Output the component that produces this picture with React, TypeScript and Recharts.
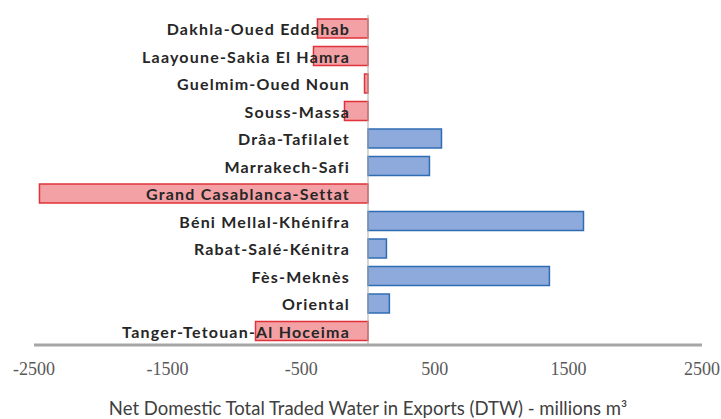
import React from "react";
import { BarChart, Bar, XAxis, YAxis, Cell, LabelList, ReferenceLine } from "recharts";

const regions = [
  "Dakhla-Oued Eddahab",
  "Laayoune-Sakia El Hamra",
  "Guelmim-Oued Noun",
  "Souss-Massa",
  "Drâa-Tafilalet",
  "Marrakech-Safi",
  "Grand Casablanca-Settat",
  "Béni Mellal-Khénifra",
  "Rabat-Salé-Kénitra",
  "Fès-Meknès",
  "Oriental",
  "Tanger-Tetouan-Al Hoceima",
];
const dtwValues = [-378, -408, -26, -176, 550, 460, -2459, 1613, 138, 1358, 160, -842];
const xTicks = [-2500, -1500, -500, 500, 1500, 2500];
const xTitle = "Net Domestic Total Traded Water in Exports (DTW) - millions m³";

const data = regions.map((region, i) => ({ region, value: dtwValues[i] }));

const NEG_FILL = "#f4a1a5";
const NEG_STROKE = "#e0323a";
const POS_FILL = "#8eaadc";
const POS_STROKE = "#2f6db3";

const RegionLabel = (props: any) => {
  const vb = props.viewBox ?? props;
  const x = Number(vb.x);
  const w = Number(vb.width);
  const y = Number(vb.y);
  const h = Number(vb.height);
  const val = dtwValues[props.index];
  const zero = val < 0 ? Math.max(x, x + w) : Math.min(x, x + w);
  return (
    <text
      x={zero - 18}
      y={y + h / 2}
      textAnchor="end"
      dominantBaseline="central"
      fontFamily="Lato, sans-serif"
      fontWeight={700}
      fontSize={16}
      letterSpacing={1.2}
      fill="#262626"
    >
      {props.value}
    </text>
  );
};

export default function App() {
  return (
    <div style={{ position: "absolute", left: 0, top: 0, background: "#fff" }}>
      <BarChart
        width={721}
        height={419}
        data={data}
        layout="vertical"
        margin={{ top: 15, right: 19, bottom: 4, left: 34 }}
        barSize={19}
      >
        <XAxis
          type="number"
          domain={[-2500, 2500]}
          ticks={xTicks}
          tickLine={false}
          axisLine={{ stroke: "#a6a6a6", strokeWidth: 3 }}
          tickMargin={11}
          tick={{ fill: "#595959", fontSize: 18, fontFamily: "'Liberation Serif', serif" }}
          height={70}
          label={{
            value: xTitle,
            position: "insideBottom",
            offset: 0,
            fill: "#404040",
            fontSize: 18.5,
            fontFamily: "Lato, sans-serif",
          }}
        />
        <YAxis type="category" dataKey="region" hide />
        <ReferenceLine x={0} stroke="#a9a9a9" strokeWidth={1} />
        <Bar dataKey="value" isAnimationActive={false} strokeWidth={1.5}>
          {data.map((d, i) => (
            <Cell
              key={i}
              fill={d.value < 0 ? NEG_FILL : POS_FILL}
              stroke={d.value < 0 ? NEG_STROKE : POS_STROKE}
            />
          ))}
          <LabelList dataKey="region" content={<RegionLabel />} />
        </Bar>
      </BarChart>
    </div>
  );
}
